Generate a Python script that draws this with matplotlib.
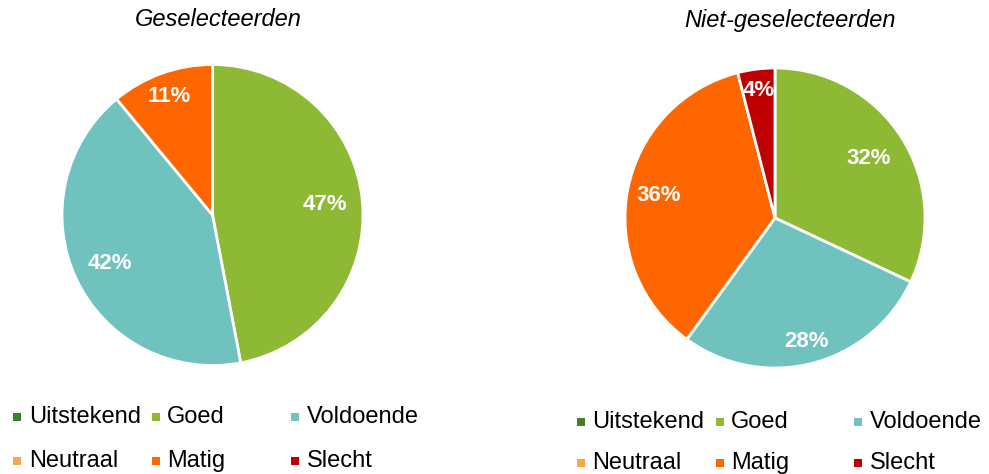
import matplotlib
matplotlib.use('Agg')
import matplotlib.pyplot as plt
from matplotlib.patches import Rectangle
import numpy as np

plt.rcParams['font.family'] = ['Liberation Sans', 'DejaVu Sans']

categories = ['Uitstekend', 'Goed', 'Voldoende', 'Neutraal', 'Matig', 'Slecht']
colors = ['#3F7F2F', '#8DB935', '#70C2BF', '#F9A54A', '#FF6600', '#C00000']

geselecteerden = [0, 47, 42, 0, 11, 0]
niet_geselecteerden = [0, 32, 28, 0, 36, 4]

W, H = 989, 474
fig = plt.figure(figsize=(W / 100, H / 100), dpi=100)


def draw_pie(cx, cy, r, values, title, title_x, label_dist):
    ax = fig.add_axes([(cx - r) / W, 1 - (cy + r) / H, 2 * r / W, 2 * r / H])
    vals = [v for v in values if v > 0]
    cols = [c for v, c in zip(values, colors) if v > 0]
    wedges, _, autotexts = ax.pie(vals, colors=cols, startangle=90, counterclock=False,
                                  autopct='%1.0f%%', pctdistance=0.78,
                                  wedgeprops=dict(edgecolor='white', linewidth=2),
                                  textprops=dict(color='white', fontsize=16, fontweight='bold'))
    # nudge labels like Excel does
    for w, t, d in zip(wedges, autotexts, label_dist):
        ang = np.deg2rad((w.theta1 + w.theta2) / 2)
        t.set_position((d * np.cos(ang), d * np.sin(ang)))
    ax.set_xlim(-1, 1)
    ax.set_ylim(-1, 1)
    ax.set_aspect('equal')
    fig.text(title_x / W, 1 - 20 / H, title, ha='center', va='center',
             fontsize=17, style='italic')


def draw_legend(x_marks, x_texts, rows):
    for i, cat in enumerate(categories):
        col, row = i % 3, i // 3
        y = rows[row]
        fig.add_artist(Rectangle(((x_marks[col] - 4) / W, 1 - (y + 4) / H), 8 / W, 8 / H,
                                 transform=fig.transFigure, color=colors[i], lw=0))
        fig.text(x_texts[col] / W, 1 - y / H, cat, ha='left', va='center', fontsize=17)


draw_pie(212.5, 215, 150.5, geselecteerden, 'Geselecteerden', 218, [0.75, 0.75, 0.84])
draw_pie(775, 218, 150, niet_geselecteerden, 'Niet-geselecteerden', 790, [0.74, 0.85, 0.79, 0.86])

draw_legend([17, 156, 295], [29, 167, 307], [417, 461])
draw_legend([581, 720, 858], [592, 731, 870], [422, 463])

fig.savefig('out.png', dpi=100)
